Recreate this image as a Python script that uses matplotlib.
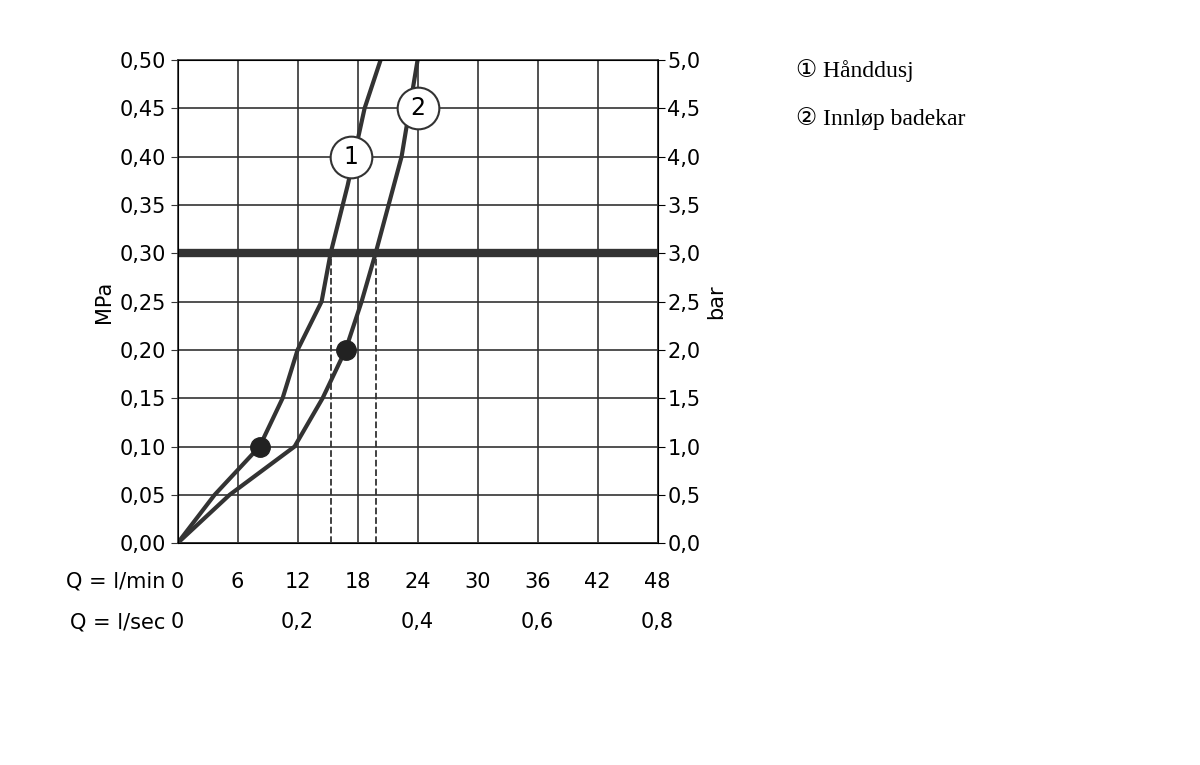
import matplotlib.pyplot as plt

# Werte (Q in l/min, p in MPa)
q1 = [0, 3.7, 8.2, 10.5, 12.0, 14.4, 15.3, 17.0, 18.7, 20.3]
p1 = [0, 0.05, 0.10, 0.15, 0.20, 0.25, 0.30, 0.37, 0.45, 0.50]
q2 = [0, 5.2, 11.7, 14.5, 16.8, 18.4, 19.8, 22.4, 24.0]
p2 = [0, 0.05, 0.10, 0.15, 0.20, 0.25, 0.30, 0.40, 0.50]
dots_q = [8.2, 16.8]
dots_p = [0.10, 0.20]
dash_q = [15.3, 19.8]
x_ticks = [0, 6, 12, 18, 24, 30, 36, 42, 48]
sec_ticks = [0, 12, 24, 36, 48]
sec_labels = ['0', '0,2', '0,4', '0,6', '0,8']
y_ticks = [i * 0.05 for i in range(11)]
legend_items = ['① Hånddusj', '② Innløp badekar']

fig = plt.figure(figsize=(12, 7.65), dpi=100)
ax = fig.add_axes([0.148, 0.290, 0.40, 0.6316])
fs = 15

ax.set_xlim(0, 48)
ax.set_ylim(0, 0.5)
ax.set_xticks(x_ticks)
ax.set_yticks(y_ticks)
ax.set_yticklabels([f'{v:.2f}'.replace('.', ',') for v in y_ticks], fontsize=fs)
ax.set_xticklabels([])
ax.tick_params(axis='x', length=0)
ax.tick_params(axis='y', direction='out', length=5, color='#333')
ax.grid(color='#333', linewidth=1.2)
for s in ax.spines.values():
    s.set_color('#333')
    s.set_linewidth(1.2)
ax.set_ylabel('MPa', fontsize=fs)

ax2 = ax.twinx()
ax2.set_ylim(0, 5)
ax2.set_yticks([i * 0.5 for i in range(11)])
ax2.set_yticklabels([f'{i*0.5:.1f}'.replace('.', ',') for i in range(11)], fontsize=fs)
ax2.tick_params(axis='y', direction='out', length=5, pad=2)
ax2.set_ylabel('bar', fontsize=fs)

ax.axhline(0.30, color='#333', linewidth=6)
for q in dash_q:
    ax.plot([q, q], [0, 0.30], color='#333', linestyle='--', linewidth=1.3)
ax.plot(q1, p1, color='#333', linewidth=3, clip_on=True)
ax.plot(q2, p2, color='#333', linewidth=3, clip_on=True)
ax.plot(dots_q, dots_p, 'o', color='#222', markersize=14)

for q, p, t in [(17.3, 0.40, '1'), (24.0, 0.45, '2')]:
    ax.plot(q, p, 'o', markersize=30, markerfacecolor='white', markeredgecolor='#333',
            markeredgewidth=1.5, zorder=5)
    ax.text(q, p, t, ha='center', va='center', fontsize=fs + 2, zorder=6)

for q in x_ticks:
    ax.text(q, -0.04, str(q), ha='center', va='center', fontsize=fs)
for q, t in zip(sec_ticks, sec_labels):
    ax.text(q, -0.082, t, ha='center', va='center', fontsize=fs)
ax.text(-1.2, -0.04, 'Q = l/min', ha='right', va='center', fontsize=fs)
ax.text(-1.2, -0.082, 'Q = l/sec', ha='right', va='center', fontsize=fs)

for i, t in enumerate(legend_items):
    fig.text(0.663, 0.908 - i * 0.063, t, fontsize=17, family=['Liberation Serif', 'DejaVu Sans'],
             va='center')

fig.savefig('out.png')
